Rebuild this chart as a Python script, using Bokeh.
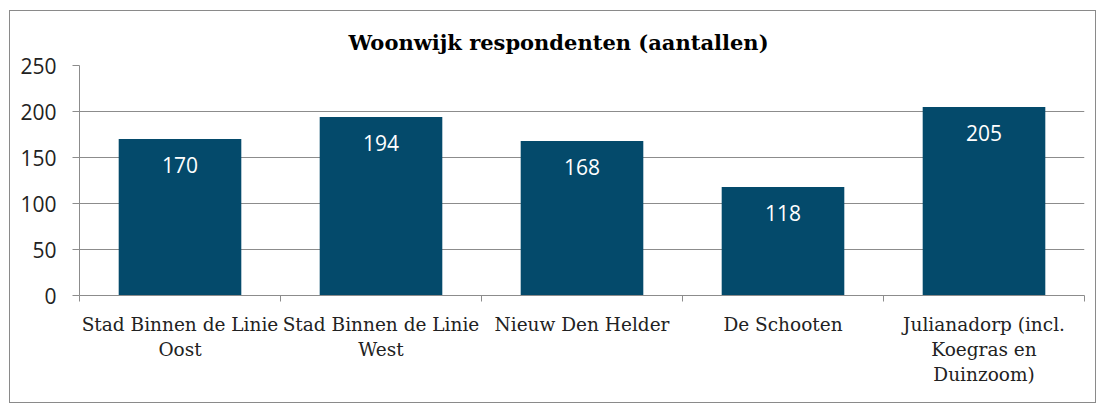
from bokeh.plotting import figure
from bokeh.models import Range1d, FixedTicker, Title
from bokeh.core.properties import value
from bokeh.embed import file_html
from bokeh.resources import INLINE

categories = ["Stad Binnen de Linie\nOost", "Stad Binnen de Linie\nWest", "Nieuw Den Helder",
              "De Schooten", "Julianadorp (incl.\nKoegras en\nDuinzoom)"]
counts = [170, 194, 168, 118, 205]
y_ticks = [0, 50, 100, 150, 200, 250]

xs = [i + 0.5 for i in range(len(categories))]
labels = [str(v) for v in counts]

BAR = "#044a6b"
GRID = "#8c8c8c"

p = figure(width=1087, height=393, output_backend="svg", toolbar_location=None,
           x_range=Range1d(0, len(categories)), y_range=Range1d(0, 250),
           min_border_left=69, min_border_right=13, min_border_top=54, min_border_bottom=109,
           styles={"border": "1px solid #8a8a8a", "margin-left": "9px", "margin-top": "10px"})
p.title = Title(text="Woonwijk respondenten (aantallen)", align="left", offset=269,
                text_font="DejaVu Serif", text_font_size="21px", text_font_style="bold",
                text_color="#000000", standoff=22)
p.outline_line_color = None
p.background_fill_color = "white"
p.border_fill_color = "white"

p.vbar(x=xs, top=counts, width=0.61, fill_color=BAR, line_color=None)
p.text(x=xs, y=counts, text=labels, text_align="center", text_baseline="middle",
       y_offset=26, text_color="#ffffff", text_font=value("Open Sans"), text_font_size="21px")

# y axis
yax = p.yaxis[0]
yax.ticker = FixedTicker(ticks=y_ticks)
yax.axis_line_color = GRID
yax.major_tick_line_color = GRID
yax.major_tick_out = 7
yax.major_tick_in = 0
yax.minor_tick_line_color = None
yax.major_label_text_font = "Open Sans"
yax.major_label_text_font_size = "21px"
yax.major_label_text_color = "#222222"
yax.major_label_standoff = 16

# x axis: labels at centres, ticks at boundaries
xax = p.xaxis[0]
xax.ticker = FixedTicker(ticks=xs, minor_ticks=list(range(len(categories) + 1)))
xax.major_label_overrides = {x: c for x, c in zip(xs, categories)}
xax.axis_line_color = GRID
xax.major_tick_line_color = None
xax.major_tick_out = 0
xax.major_tick_in = 0
xax.minor_tick_line_color = GRID
xax.minor_tick_out = 6
xax.minor_tick_in = 0
xax.major_label_text_font = "DejaVu Serif"
xax.major_label_text_font_size = "18.5px"
xax.major_label_text_color = "#222222"
xax.major_label_standoff = 12

p.xgrid.grid_line_color = None
p.ygrid.ticker = FixedTicker(ticks=y_ticks)
p.ygrid.grid_line_color = GRID
p.ygrid.grid_line_width = 1

open("out.html", "w").write(file_html(p, INLINE))
